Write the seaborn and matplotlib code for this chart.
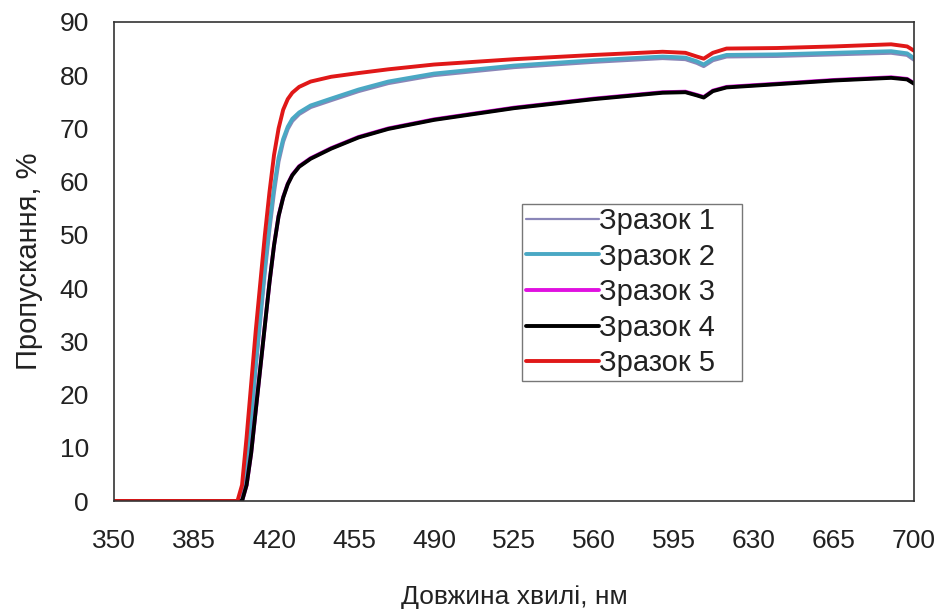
import matplotlib
matplotlib.use("Agg")
import matplotlib.pyplot as plt
import numpy as np
import pandas as pd
import seaborn as sns

# Wavelength grid, nm
wavelength = [350, 404, 406, 408, 410, 412, 414, 416, 418, 420, 422, 424, 426, 428,
              431, 436, 445, 457, 470, 490, 525, 560, 590, 600, 605, 608, 612, 618,
              640, 665, 690, 697, 700]

# Transmittance, %
sample_1 = [0, 0, 0, 6, 15, 25, 34, 43, 51, 58, 63.8, 67.5, 69.9, 71.4, 72.7, 74.0,
            75.3, 77.0, 78.5, 80.0, 81.5, 82.5, 83.2, 83.0, 82.3, 81.7, 82.8, 83.5,
            83.6, 83.9, 84.2, 83.8, 82.9]
sample_2 = [0, 0, 0, 7, 16, 26, 35, 44, 52, 59, 64.5, 68.0, 70.3, 71.8, 73.0, 74.3,
            75.6, 77.3, 78.8, 80.3, 81.8, 82.8, 83.5, 83.3, 82.6, 82.0, 83.1, 83.8,
            83.9, 84.2, 84.5, 84.1, 83.2]
sample_3 = [0, 0, 0, 3, 9, 17, 25, 33, 41, 48, 53.6, 57.1, 59.6, 61.3, 62.9, 64.4,
            66.3, 68.4, 70.0, 71.7, 73.9, 75.6, 76.8, 76.9, 76.3, 75.9, 77.1, 77.8,
            78.4, 79.1, 79.6, 79.3, 78.5]
sample_4 = [0, 0, 0, 3, 9, 17, 25, 33, 41, 48, 53.5, 57.0, 59.5, 61.2, 62.8, 64.3,
            66.2, 68.3, 69.9, 71.6, 73.8, 75.5, 76.7, 76.8, 76.2, 75.8, 77.0, 77.7,
            78.3, 79.0, 79.5, 79.2, 78.4]
sample_5 = [0, 0, 3, 12, 22, 32, 41, 50, 58, 65, 70, 73.5, 75.5, 76.7, 77.8, 78.8,
            79.7, 80.4, 81.1, 82.0, 83.0, 83.8, 84.4, 84.2, 83.5, 83.1, 84.2, 85.0,
            85.1, 85.4, 85.8, 85.4, 84.6]

labels = ["Зразок 1", "Зразок 2", "Зразок 3", "Зразок 4", "Зразок 5"]
series = [sample_1, sample_2, sample_3, sample_4, sample_5]
colors = ["#8a86b8", "#4aa8c4", "#e010e0", "#000000", "#e01818"]

x_ticks = [350, 385, 420, 455, 490, 525, 560, 595, 630, 665, 700]
y_ticks = [0, 10, 20, 30, 40, 50, 60, 70, 80, 90]

df = pd.DataFrame({
    "Довжина хвилі, нм": np.tile(wavelength, len(series)),
    "Пропускання, %": np.concatenate(series),
    "Зразок": np.repeat(labels, len(wavelength)),
})

sns.set_theme(style="white")
plt.rcParams["font.family"] = ["Liberation Sans", "DejaVu Sans"]

fig = plt.figure(figsize=(9.44, 6.13), dpi=100)
ax = fig.add_axes([0.1208, 0.1827, 0.8474, 0.7815])

sns.lineplot(data=df, x="Довжина хвилі, нм", y="Пропускання, %", hue="Зразок",
             hue_order=labels, palette=dict(zip(labels, colors)),
             linewidth=2.8, ax=ax, legend=False)

ax.set_xlim(350, 700)
ax.set_ylim(0, 90)
ax.set_xticks(x_ticks)
ax.set_yticks(y_ticks)
ax.tick_params(axis="both", direction="in", length=6, width=1.2, color="#333333",
               labelsize=19, colors="#222222")
ax.tick_params(axis="x", pad=20)
ax.tick_params(axis="y", pad=18)
for sp in ax.spines.values():
    sp.set_color("#333333")
    sp.set_linewidth(1.2)

ax.set_xlabel("Довжина хвилі, нм", fontsize=19, color="#222222", labelpad=23)
ax.set_ylabel("Пропускання, %", fontsize=21, color="#222222", labelpad=12)

# Legend box stretched to a fixed width, entries left-aligned
handles = [plt.Line2D([], [], color=c, lw=2.8 if i else 1.6) for i, c in enumerate(colors)]
leg = ax.legend(handles, labels, loc="upper left",
                bbox_to_anchor=(0.5106, 0.25, 0.274, 0.371), mode="expand",
                fontsize=21, frameon=True, fancybox=False, edgecolor="#555555",
                handlelength=2.5, handletextpad=0.0, labelspacing=0.26,
                borderpad=0.12, borderaxespad=0)
leg.get_frame().set_linewidth(1.0)
for t in leg.get_texts():
    t.set_color("#222222")

fig.savefig("out.png", dpi=100, facecolor="white")
